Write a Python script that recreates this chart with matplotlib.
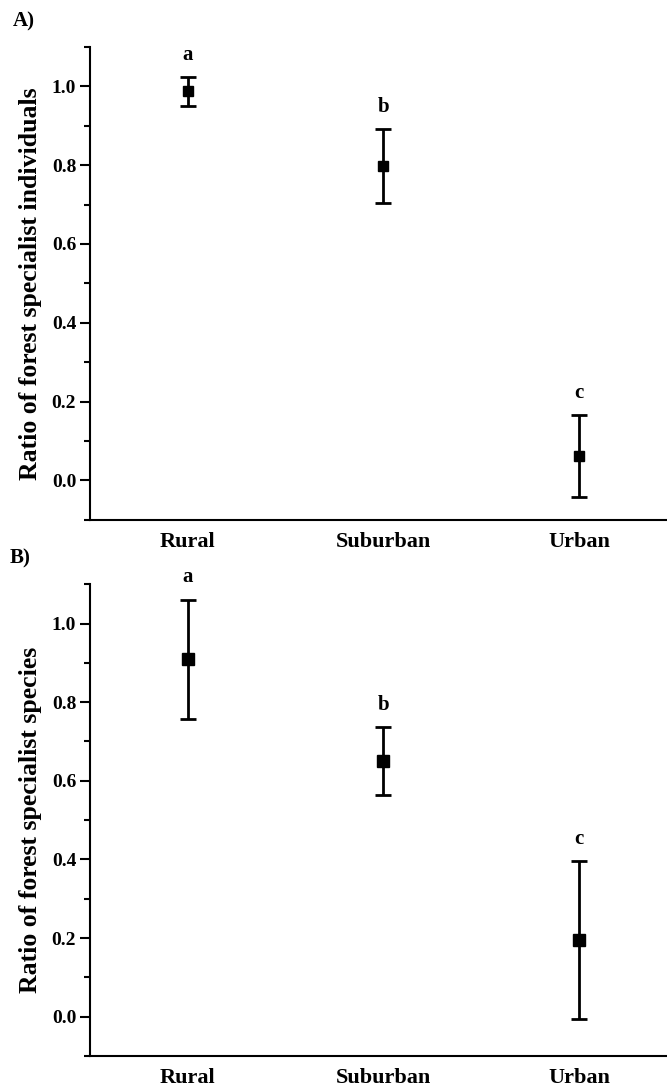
import numpy as np
import matplotlib
matplotlib.use("Agg")
import matplotlib.pyplot as plt
from matplotlib.ticker import MultipleLocator

plt.rcParams["font.family"] = ["Liberation Serif", "DejaVu Serif"]
plt.rcParams["font.weight"] = "bold"

sites = ["Rural", "Suburban", "Urban"]
letters = ["a", "b", "c"]

# panel A: ratio of forest specialist individuals
ind_mean = [0.987, 0.797, 0.061]
ind_err = [0.036, 0.094, 0.104]

# panel B: ratio of forest specialist species
spp_mean = [0.909, 0.650, 0.195]
spp_err = [0.152, 0.086, 0.200]


def panel(ax, mean, err, ylabel, msize):
    x = np.arange(1, len(sites) + 1)
    ax.errorbar(x, mean, yerr=err, fmt="s", color="black", ms=msize,
                elinewidth=2, capsize=6, capthick=2)
    for xi, m, e, lab in zip(x, mean, err, letters):
        ax.annotate(lab, (xi, m + e), xytext=(0, 9), textcoords="offset points",
                    ha="center", va="bottom", fontsize=15, fontweight="bold")
    ax.set_xlim(0.5, 3.45)
    ax.set_ylim(-0.1, 1.1)
    ax.set_xticks(x)
    ax.set_xticklabels(sites, fontsize=16, fontweight="bold")
    ax.tick_params(axis="x", length=0, pad=9)
    ax.yaxis.set_major_locator(MultipleLocator(0.2))
    ax.yaxis.set_minor_locator(MultipleLocator(0.1))
    ax.yaxis.set_major_formatter(plt.FormatStrFormatter("%.1f"))
    ax.tick_params(axis="y", which="major", length=7, width=1.5, labelsize=14, pad=3)
    ax.tick_params(axis="y", which="minor", length=4, width=1.5)
    for lbl in ax.get_yticklabels():
        lbl.set_fontweight("bold")
    ax.spines["top"].set_visible(False)
    ax.spines["right"].set_visible(False)
    ax.spines["left"].set_linewidth(1.5)
    ax.spines["bottom"].set_linewidth(1.5)
    ax.set_ylabel(ylabel, fontsize=18.5, fontweight="bold", labelpad=7)


fig = plt.figure(figsize=(6.67, 10.92), dpi=100)
ax1 = fig.add_axes([0.135, 0.524, 0.865, 0.433])
ax2 = fig.add_axes([0.135, 0.033, 0.865, 0.432])

panel(ax1, ind_mean, ind_err, "Ratio of forest specialist individuals", 6.5)
panel(ax2, spp_mean, spp_err, "Ratio of forest specialist species", 9)

fig.text(0.019, 0.980, "A)", fontsize=15, fontweight="bold", va="center")
fig.text(0.015, 0.489, "B)", fontsize=15, fontweight="bold", va="center")

fig.savefig("out.png", dpi=100)
